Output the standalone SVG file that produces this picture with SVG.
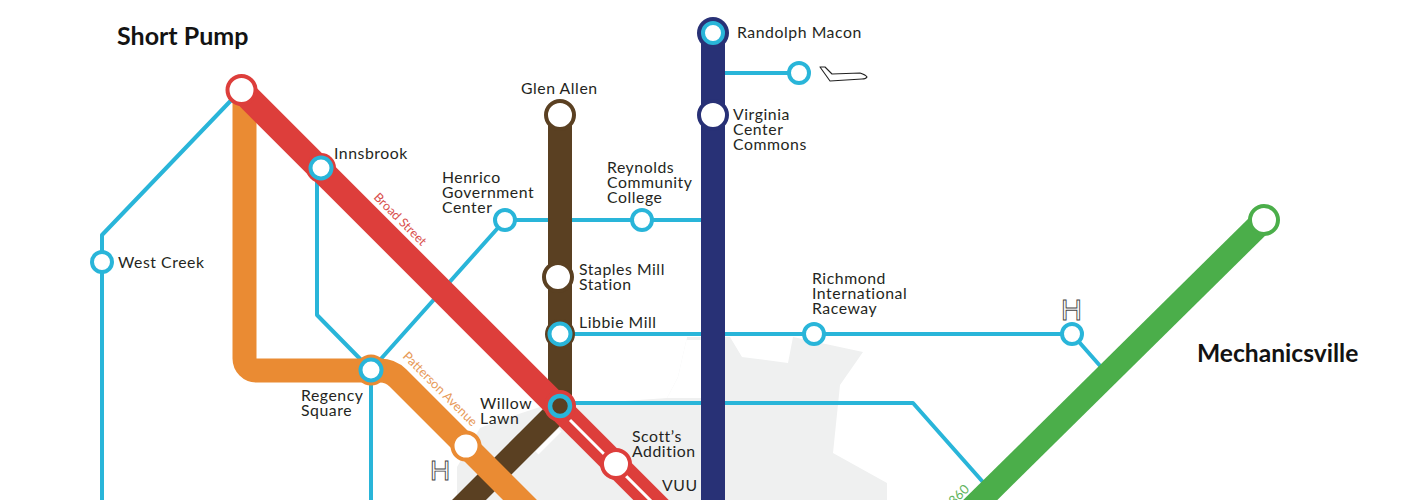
<svg xmlns="http://www.w3.org/2000/svg" width="1409" height="500" viewBox="0 0 1409 500">
<style>
.t{font-family:"Lato","Liberation Sans",sans-serif;font-size:15.800px;letter-spacing:.55px;fill:#231f20}
.b{font-family:"Lato","Liberation Sans",sans-serif;font-size:25px;font-weight:700;fill:#111}
.l{fill:none;stroke-linejoin:round}
.c{stroke:#29b5d9;stroke-width:4;fill:none;stroke-linejoin:round}
.n{fill:#fff;stroke-width:4}
.h{font-family:"Liberation Sans",sans-serif;fill:#fff;stroke:#444;stroke-width:.9}
.s{font-family:"Lato","Liberation Sans",sans-serif}
</style>
<rect width="1409" height="500" fill="#fff"/>
<path id="city" fill="#eff0f0" d="M687 337L730 337L742 357L788 363L793 337L863 352L840 385L833 453L887 483L887 500L457 500L457 467L480 428L500 420L540 407L667 398L678 377Z"/>
<path id="city-cut" fill="#fff" d="M580 340H712V398H667L678 377L687 337Z"/>
<g id="connectors">
<path class="c" d="M102 500V235L241 90"/>
<path class="c" d="M317 168V315L371 370V500"/>
<path class="c" d="M371 370L505 220H712"/>
<path class="c" d="M713 73H799"/>
<path class="c" d="M560 334H1072L1102 368"/>
<path class="c" d="M560 403H913L990 490"/>
<path fill="none" stroke="#fff" stroke-width="4" d="M560 430L537 453"/>
<path class="l" stroke="#5a4022" stroke-width="24" d="M560 115V409L450 519"/>
<path class="l" stroke="#ea8b33" stroke-width="24" d="M244.500 90V358.500A12 12 0 0 0 256.500 370.500H380Q390.500 370.500 398 378L530 510"/>
<path class="l" stroke="#dd3e3b" stroke-width="25" d="M241 90L680 529"/>
<path fill="none" stroke="#fff" stroke-width="3" d="M570 420L660 510"/>
<path class="l" stroke="#283176" stroke-width="24" d="M713 32V500"/>
<path class="l" stroke="#4bae4a" stroke-width="24" d="M1264 220L960 520"/>
</g>
<g id="short-pump-node"><circle class="n" cx="241.500" cy="90" r="14" stroke="#dd3e3b"/></g>
<g id="innsbrook-node"><circle cx="321" cy="168" r="15" fill="#dd3e3b"/><circle class="n" cx="321" cy="168" r="10.500" stroke="#29b5d9"/></g>
<g id="west-creek-node"><circle class="n" cx="102" cy="262" r="10" stroke="#29b5d9"/></g>
<g id="glen-allen-node"><circle class="n" cx="560" cy="115" r="14" stroke="#5a4022"/></g>
<g id="staples-node"><circle class="n" cx="558" cy="277" r="14" stroke="#5a4022"/></g>
<g id="libbie-node"><circle cx="560" cy="334" r="15" fill="#5a4022"/><circle class="n" cx="560" cy="334" r="10.500" stroke="#29b5d9"/></g>
<g id="willow-node"><circle cx="560" cy="406" r="16" fill="#dd3e3b"/><circle cx="560" cy="406" r="10" fill="#5a4022" stroke="#29b5d9" stroke-width="4.500"/></g>
<g id="scotts-node"><circle class="n" cx="616" cy="464" r="14" stroke="#dd3e3b"/></g>
<g id="regency-node"><circle cx="371" cy="370" r="15.500" fill="#ea8b33"/><circle class="n" cx="371" cy="370" r="10.500" stroke="#29b5d9"/></g>
<g id="patterson-node"><circle class="n" cx="466" cy="446" r="13.500" stroke="#ea8b33"/></g>
<g id="henrico-node"><circle class="n" cx="505" cy="220" r="10" stroke="#29b5d9"/></g>
<g id="reynolds-node"><circle class="n" cx="642" cy="220" r="10" stroke="#29b5d9"/></g>
<g id="randolph-node"><circle cx="713" cy="33" r="16" fill="#283176"/><circle class="n" cx="713" cy="33" r="10" stroke="#29b5d9"/></g>
<g id="airport-node"><circle class="n" cx="799" cy="73" r="10" stroke="#29b5d9"/></g>
<g id="vcc-node"><circle class="n" cx="713" cy="115" r="14" stroke="#283176"/></g>
<g id="raceway-node"><circle class="n" cx="814" cy="334" r="10" stroke="#29b5d9"/></g>
<g id="h-node"><circle class="n" cx="1072" cy="334" r="10" stroke="#29b5d9"/></g>
<g id="mech-node"><circle class="n" cx="1264" cy="220" r="14" stroke="#4bae4a"/></g>
<path id="plane" fill="#fff" stroke="#222" stroke-width="1.100" stroke-linejoin="round" d="M820 67L825 67L832 74L860 73Q866 75 867 77Q866 79 862 79L830 81Z"/>
<g id="labels" opacity=".99">
<text class="b" x="117" y="45">Short Pump</text>
<text class="b" x="1197" y="362" style="font-size:24.600px">Mechanicsville</text>
<text class="t" x="737" y="38">Randolph Macon</text>
<text class="t" x="733" y="120">Virginia</text><text class="t" x="733" y="135">Center</text><text class="t" x="733" y="150">Commons</text>
<text class="t" x="521" y="94">Glen Allen</text>
<text class="t" x="334" y="159">Innsbrook</text>
<text class="t" x="442" y="183">Henrico</text><text class="t" x="442" y="198">Government</text><text class="t" x="442" y="213">Center</text>
<text class="t" x="607" y="173">Reynolds</text><text class="t" x="607" y="188">Community</text><text class="t" x="607" y="203">College</text>
<text class="t" x="118" y="268">West Creek</text>
<text class="t" x="579" y="275">Staples Mill</text><text class="t" x="579" y="290">Station</text>
<text class="t" x="579" y="328">Libbie Mill</text>
<text class="t" x="812" y="284">Richmond</text><text class="t" x="812" y="299">International</text><text class="t" x="812" y="314">Raceway</text>
<text class="t" x="301" y="401">Regency</text><text class="t" x="301" y="416">Square</text>
<text class="t" x="480" y="409">Willow</text><text class="t" x="480" y="424">Lawn</text>
<text class="t" x="632" y="442">Scott’s</text><text class="t" x="632" y="457">Addition</text>
<text class="t" x="662" y="491">VUU</text>
<text class="h" x="1061" y="320" font-size="29">H</text>
<text class="h" x="430" y="480" font-size="28">H</text>
<text class="s" transform="translate(373 198) rotate(45)" font-size="12.500" fill="#d9504d">Broad Street</text>
<text class="s" transform="translate(402 357) rotate(45)" font-size="12.800" fill="#e79a58">Patterson Avenue</text>
<text class="s" transform="translate(954 506) rotate(-45)" font-size="13" fill="#5fb55e">360</text>
</g>
</svg>
